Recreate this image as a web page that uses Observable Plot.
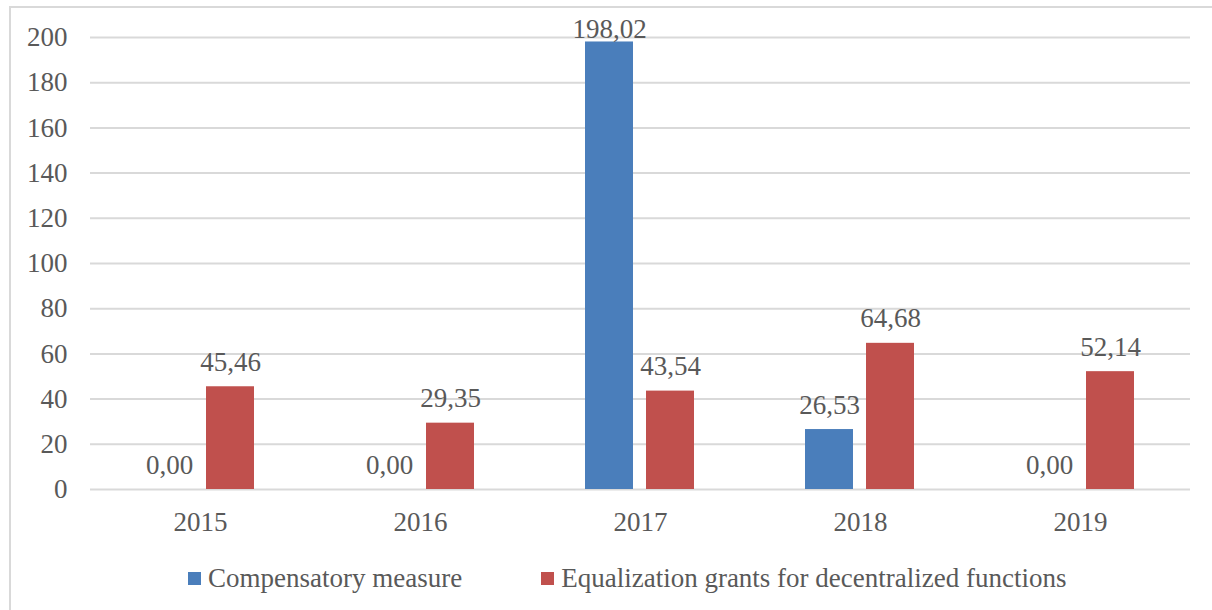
<!DOCTYPE html>
<html>
<head>
<meta charset="utf-8">
<script src="https://cdn.jsdelivr.net/npm/d3@7"></script>
<script src="https://cdn.jsdelivr.net/npm/@observablehq/plot@0.6"></script>
<style>
  html, body { margin: 0; padding: 0; background: #fff; overflow: hidden; }
  #wrap { position: relative; width: 1212px; height: 610px; overflow: hidden; font-family: "Liberation Serif", Tinos, "Times New Roman", "DejaVu Serif", serif; }
  #border { position: absolute; left: 9px; top: 6px; width: 1400px; height: 800px; border-left: 2px solid #d9d9d9; border-top: 2px solid #d9d9d9; }
  #chart { position: absolute; left: 0; top: 0; }
  #legend { position: absolute; left: 188px; top: 563px; display: flex; align-items: center; font-size: 27px; line-height: 31px; color: #595959; white-space: nowrap; }
  .sw { display: inline-block; width: 13px; height: 13px; margin-right: 7px; }
  .item { display: flex; align-items: center; }
  #chart svg, #chart svg text { font-family: "Liberation Serif", Tinos, "Times New Roman", "DejaVu Serif", serif !important; }
</style>
</head>
<body>
<div id="wrap">
  <div id="border"></div>
  <div id="chart"></div>
  <div id="legend"></div>
</div>
<script>
const years = ["2015", "2016", "2017", "2018", "2019"];
const seriesNames = ["Compensatory measure", "Equalization grants for decentralized functions"];
const compensatory = [0.00, 0.00, 198.02, 26.53, 0.00];
const equalization = [45.46, 29.35, 43.54, 64.68, 52.14];
const seriesColors = ["#4a7ebb", "#c0504d"];
const yTicks = [0, 20, 40, 60, 80, 100, 120, 140, 160, 180, 200];

const data = [];
years.forEach((yr, i) => {
  data.push({year: yr, series: seriesNames[0], value: compensatory[i]});
  data.push({year: yr, series: seriesNames[1], value: equalization[i]});
});
const fmt = v => v.toFixed(2).replace(".", ",");
const TOP = 190;

const chart = Plot.plot({
  width: 1212,
  height: 545,
  marginTop: 37,
  marginBottom: 56,
  marginLeft: 90,
  marginRight: 22,
  style: {fontSize: "27px", color: "#595959", background: "transparent", overflow: "visible"},
  fx: {domain: years, padding: 0, label: null, tickSize: 0, tickPadding: 22},
  x: {domain: seriesNames, paddingInner: 0.21, paddingOuter: 0.88, axis: null},
  y: {domain: [0, 200], ticks: yTicks, label: null, tickSize: 0, tickPadding: 23},
  color: {domain: seriesNames, range: seriesColors},
  marks: [
    Plot.ruleY(yTicks, {stroke: "#d9d9d9", strokeWidth: 2}),
    Plot.barY(data, {fx: "year", x: "series", y: "value", fill: "series"}),
    Plot.text(data.filter(d => d.value < TOP), {fx: "year", x: "series", y: "value", text: d => fmt(d.value), lineAnchor: "bottom", dy: -16, fill: "#595959", fontSize: 27}),
    Plot.text(data.filter(d => d.value >= TOP), {fx: "year", x: "series", y: "value", text: d => fmt(d.value), lineAnchor: "bottom", dy: -4, fill: "#595959", fontSize: 27})
  ]
});
document.getElementById("chart").appendChild(chart);

const legend = document.getElementById("legend");
seriesNames.forEach((name, i) => {
  const item = document.createElement("div");
  item.className = "item";
  if (i > 0) item.style.marginLeft = "79px";
  const sw = document.createElement("span");
  sw.className = "sw";
  sw.style.background = seriesColors[i];
  const t = document.createElement("span");
  t.textContent = name;
  item.appendChild(sw);
  item.appendChild(t);
  legend.appendChild(item);
});
</script>
</body>
</html>
